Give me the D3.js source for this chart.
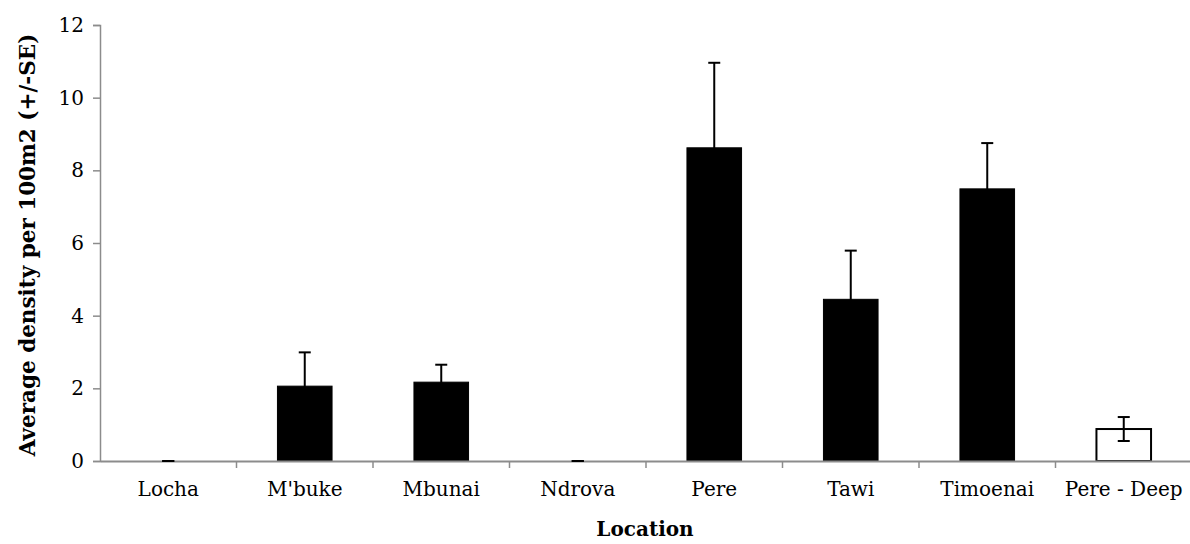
<!DOCTYPE html>
<html>
<head>
<meta charset="utf-8">
<script src="https://cdn.jsdelivr.net/npm/d3@7"></script>
<style>
  html, body { margin: 0; padding: 0; background: #fff; }
  svg { display: block; }
  text { font-family: "DejaVu Serif", serif; fill: #000; }
</style>
</head>
<body>
<svg id="chart" width="1190" height="544"></svg>
<script>
// Average density per location, with standard errors
const locations = ["Locha", "M'buke", "Mbunai", "Ndrova", "Pere", "Tawi", "Timoenai", "Pere - Deep"];
const density   = [0, 2.06, 2.17, 0, 8.62, 4.45, 7.49, 0.88];
const stdError  = [0, 0.93, 0.48, 0, 2.34, 1.34, 1.26, 0.33];
const barFill   = ["#000", "#000", "#000", "#000", "#000", "#000", "#000", "#fff"];
const yTicks    = [0, 2, 4, 6, 8, 10, 12];

const svg = d3.select("#chart");
const margin = { left: 100, right: -2, top: 25, bottom: 83 };
const W = 1190, H = 544;
const labelFont = "'DejaVu Serif', serif";

const x = d3.scaleBand()
  .domain(locations)
  .range([margin.left, W - margin.right])
  .paddingInner(0.6)
  .paddingOuter(0.3);

const y = d3.scaleLinear()
  .domain([0, 12])
  .range([H - margin.bottom, margin.top]);

const axisColor = "#8c8c8c";

// Y axis
const yAxis = svg.append("g")
  .attr("transform", `translate(${margin.left},0)`)
  .call(d3.axisLeft(y).tickValues(yTicks).tickSize(7).tickPadding(9));
yAxis.select(".domain").attr("stroke", axisColor).attr("stroke-width", 1.5);
yAxis.selectAll(".tick line").attr("stroke", axisColor).attr("stroke-width", 1.5);
yAxis.selectAll(".tick text")
  .style("font-family", labelFont)
  .style("font-size", "20px")
  .attr("fill", "#000");

// Bars
svg.append("g").selectAll("rect")
  .data(locations)
  .join("rect")
  .attr("x", d => x(d))
  .attr("width", x.bandwidth())
  .attr("y", (d, i) => y(density[i]))
  .attr("height", (d, i) => y(0) - y(density[i]))
  .attr("fill", (d, i) => barFill[i])
  .attr("stroke", (d, i) => density[i] > 0 ? "#000" : "none")
  .attr("stroke-width", (d, i) => barFill[i] === "#fff" ? 2 : 1);

// X axis (drawn over the bar bases)
const band = (x.range()[1] - x.range()[0]) / locations.length;
const xAxis = svg.append("g")
  .attr("transform", `translate(0,${y(0)})`)
  .call(d3.axisBottom(x).tickSize(0).tickPadding(21));
xAxis.select(".domain").attr("stroke", axisColor).attr("stroke-width", 2);
xAxis.selectAll(".tick text")
  .style("font-family", labelFont)
  .style("font-size", "20px")
  .attr("fill", "#000");
// Category boundary ticks
xAxis.selectAll(".sep")
  .data(d3.range(1, locations.length))
  .join("line")
  .attr("class", "sep")
  .attr("x1", i => x.range()[0] + i * band)
  .attr("x2", i => x.range()[0] + i * band)
  .attr("y1", 0).attr("y2", 7)
  .attr("stroke", axisColor).attr("stroke-width", 1.5);

// Error bars
const capHalf = 6;
const eb = svg.append("g").attr("stroke", "#000").attr("stroke-width", 2);
locations.forEach((loc, i) => {
  const cx = x(loc) + x.bandwidth() / 2;
  const hi = y(density[i] + stdError[i]);
  const lo = y(Math.max(0, density[i] - stdError[i]));
  eb.append("line").attr("x1", cx).attr("x2", cx).attr("y1", hi).attr("y2", lo);
  eb.append("line").attr("x1", cx - capHalf).attr("x2", cx + capHalf).attr("y1", hi).attr("y2", hi);
  eb.append("line").attr("x1", cx - capHalf).attr("x2", cx + capHalf).attr("y1", lo).attr("y2", lo);
});

// Axis titles
svg.append("text")
  .attr("x", (x.range()[0] + W) / 2)
  .attr("y", 536)
  .attr("text-anchor", "middle")
  .style("font-size", "20px")
  .style("font-weight", "bold")
  .text("Location");

svg.append("text")
  .attr("transform", `translate(35,${(y(0) + y(12)) / 2 + 2}) rotate(-90)`)
  .attr("text-anchor", "middle")
  .style("font-size", "21.5px")
  .style("font-weight", "bold")
  .text("Average density per 100m2 (+/-SE)");
</script>
</body>
</html>
